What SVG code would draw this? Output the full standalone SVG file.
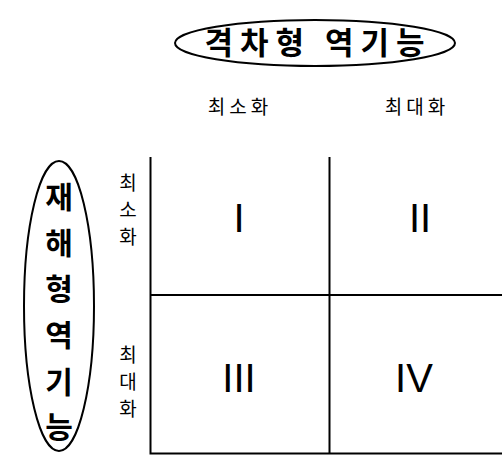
<svg xmlns="http://www.w3.org/2000/svg" width="502" height="455" viewBox="0 0 502 455">
<style>
.k{font-family:"Noto Sans CJK KR","Noto Sans",sans-serif;fill:#000}
.t{font-size:30px;font-weight:bold}
.s{font-size:19px}
.r{font-family:"Liberation Sans",Arial,sans-serif;font-size:40px;fill:#000;text-anchor:middle}
.ln{stroke:#000;stroke-width:2;fill:none}
.el{stroke:#000;stroke-width:2;fill:#fff}
</style>
<rect width="502" height="455" fill="#fff"/>
<g id="title">
<ellipse class="el" cx="315" cy="43" rx="140" ry="23"/>
<text class="k" x="318" y="54" text-anchor="middle" letter-spacing="7" font-size="31" font-weight="bold">격차형 역기능</text>
</g>
<g id="col-labels">
<text class="k s" x="240" y="114" text-anchor="middle" letter-spacing="4">최소화</text>
<text class="k s" x="417" y="114" text-anchor="middle" letter-spacing="4">최대화</text>
</g>
<g id="side-title">
<ellipse class="el" cx="59" cy="306" rx="35" ry="145"/>
<g class="k t" text-anchor="middle">
<text x="59" y="208">재</text>
<text x="59" y="254">해</text>
<text x="59" y="300">형</text>
<text x="59" y="346">역</text>
<text x="59" y="393">기</text>
<text x="59" y="438">능</text>
</g>
</g>
<g id="row-labels" class="k s" text-anchor="middle">
<text x="128" y="190">최</text>
<text x="128" y="217">소</text>
<text x="128" y="244">화</text>
<text x="128" y="362">최</text>
<text x="128" y="389">대</text>
<text x="128" y="416">화</text>
</g>
<g id="grid">
<path class="ln" d="M150.5 157V453.5H502M329.5 157V453.5M150.5 295H502"/>
</g>
<g id="cell-I"><text class="r" x="239" y="232">I</text></g>
<g id="cell-II"><text class="r" x="420" y="232">II</text></g>
<g id="cell-III"><text class="r" x="239" y="392">III</text></g>
<g id="cell-IV"><text class="r" x="414" y="392">IV</text></g>
</svg>
